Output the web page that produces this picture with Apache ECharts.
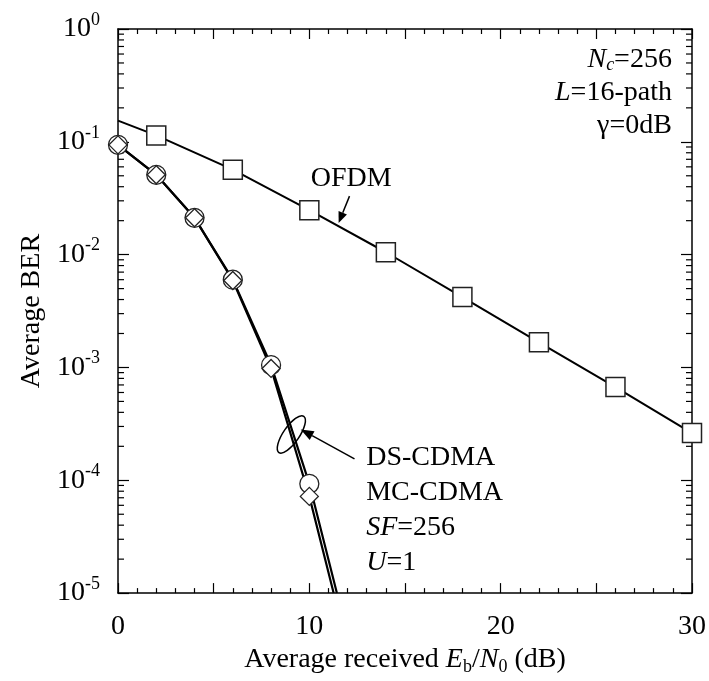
<!DOCTYPE html>
<html>
<head>
<meta charset="utf-8">
<script src="https://cdn.jsdelivr.net/npm/echarts@6/dist/echarts.min.js"></script>
<style>
  html, body { margin: 0; padding: 0; background: #fff; }
  #chart { width: 709px; height: 681px; }
</style>
</head>
<body>
<div id="chart"></div>
<script>
// Average received Eb/N0 (dB)
const ofdmLineX = [0, 2, 6, 10, 14, 18, 22, 26, 30];
const ofdmLineBer = [0.154, 0.114, 0.0566, 0.0248, 0.0105, 0.00421, 0.00167, 0.00067, 0.000262];
const ofdmMarkX = [2, 6, 10, 14, 18, 22, 26, 30];
const ofdmMarkBer = [0.114, 0.0566, 0.0248, 0.0105, 0.00421, 0.00167, 0.00067, 0.000262];

const dsX = [0, 2, 4, 6, 8, 10];
const dsBer = [0.094, 0.051, 0.0212, 0.0060, 0.00105, 9.3e-5];
const dsLineEnd = [11.44, 1e-5];

const mcX = [0, 2, 4, 6, 8, 10];
const mcBer = [0.094, 0.051, 0.0212, 0.0059, 0.00098, 7.2e-5];
const mcLineEnd = [11.27, 1e-5];

const xTickLabels = [0, 10, 20, 30];
const berDecades = [-5, -4, -3, -2, -1, 0];

const FONT = "'Liberation Serif', 'Times New Roman', serif";

// log-axis minor tick values (2..9 per decade)
const minorBer = [];
for (let e = -5; e < 0; e++) {
  for (let m = 2; m <= 9; m++) minorBer.push(m * Math.pow(10, e));
}

const pairs = (xs, ys) => xs.map((x, i) => [x, ys[i]]);

const chart = echarts.init(document.getElementById('chart'), null, { renderer: 'canvas' });

const xAxisBase = {
  type: 'value', min: 0, max: 30, interval: 5,
  axisLine: { show: true, onZero: false, lineStyle: { color: '#000', width: 1.5 } },
  axisTick: { show: true, inside: true, length: 10, lineStyle: { color: '#000', width: 1.2 } },
  minorTick: { show: true, splitNumber: 5, length: 5, lineStyle: { color: '#000', width: 1.2 } },
  splitLine: { show: false },
  minorSplitLine: { show: false }
};

const yAxisBase = {
  type: 'log', logBase: 10, min: 1e-5, max: 1, splitNumber: 5,
  axisLine: { show: true, onZero: false, lineStyle: { color: '#000', width: 1.5 } },
  axisTick: { show: true, inside: true, length: 11, lineStyle: { color: '#000', width: 1.2 } },
  splitLine: { show: false }
};

const option = {
  animation: false,
  backgroundColor: '#fff',
  grid: { left: 118, right: 16, top: 29, bottom: 76, containLabel: false },
  xAxis: [
    Object.assign({}, xAxisBase, {
      position: 'bottom',
      name: 'Average received {i|E}{sb|b}/{i|N}{sb|0} (dB)',
      nameLocation: 'middle',
      nameGap: 40,
      nameTextStyle: {
        color: '#000', fontFamily: FONT, fontSize: 28,
        rich: {
          i: { fontFamily: FONT, fontSize: 28, fontStyle: 'italic', color: '#000' },
          sb: { fontFamily: FONT, fontSize: 18, color: '#000', padding: [14, 0, 0, 0] }
        }
      },
      axisLabel: {
        show: true, margin: 20, color: '#000', fontFamily: FONT, fontSize: 28,
        formatter: v => (xTickLabels.indexOf(v) >= 0 ? String(v) : '')
      }
    }),
    Object.assign({}, xAxisBase, { position: 'top', axisLabel: { show: false } })
  ],
  yAxis: [
    Object.assign({}, yAxisBase, {
      position: 'left',
      name: 'Average BER',
      nameLocation: 'middle',
      nameGap: 70,
      nameRotate: 90,
      nameTextStyle: { color: '#000', fontFamily: FONT, fontSize: 28 },
      axisLabel: {
        show: true, margin: 18, color: '#000',
        formatter: v => {
          const e = Math.round(Math.log10(v));
          return berDecades.indexOf(e) >= 0 ? '{b|10}{s|' + e + '}' : '';
        },
        rich: {
          b: { fontFamily: FONT, fontSize: 28, color: '#000' },
          s: { fontFamily: FONT, fontSize: 18, color: '#000', padding: [0, 0, 18, 0] }
        }
      }
    }),
    Object.assign({}, yAxisBase, { position: 'right', axisLabel: { show: false } })
  ],
  series: [
    {
      type: 'custom', name: 'minorTicks', silent: true, z: 1,
      xAxisIndex: 0, yAxisIndex: 0,
      data: minorBer.map(v => [0, v]),
      renderItem: (params, api) => {
        const p = api.coord([0, api.value(1)]);
        const cs = params.coordSys;
        const st = { stroke: '#000', lineWidth: 1.2 };
        return {
          type: 'group',
          children: [
            { type: 'line', shape: { x1: cs.x, y1: p[1], x2: cs.x + 6, y2: p[1] }, style: st },
            { type: 'line', shape: { x1: cs.x + cs.width - 6, y1: p[1], x2: cs.x + cs.width, y2: p[1] }, style: st }
          ]
        };
      }
    },
    {
      type: 'line', name: 'OFDM curve', data: pairs(ofdmLineX, ofdmLineBer),
      showSymbol: false, symbol: 'none', smooth: false,
      lineStyle: { color: '#000', width: 2 }, z: 2, silent: true
    },
    {
      type: 'line', name: 'DS-CDMA curve', data: pairs(dsX, dsBer).concat([dsLineEnd]),
      showSymbol: false, symbol: 'none', smooth: false,
      lineStyle: { color: '#000', width: 2.2 }, z: 2, silent: true
    },
    {
      type: 'line', name: 'MC-CDMA curve', data: pairs(mcX, mcBer).concat([mcLineEnd]),
      showSymbol: false, symbol: 'none', smooth: false,
      lineStyle: { color: '#000', width: 2.2 }, z: 2, silent: true
    },
    {
      type: 'scatter', name: 'OFDM', data: pairs(ofdmMarkX, ofdmMarkBer),
      symbol: 'rect', symbolSize: 19,
      itemStyle: { color: '#fff', borderColor: '#222', borderWidth: 1.5, opacity: 1 }, z: 3
    },
    {
      type: 'scatter', name: 'DS-CDMA', data: pairs(dsX, dsBer),
      symbol: 'circle', symbolSize: 19,
      itemStyle: { color: '#fff', borderColor: '#222', borderWidth: 1.3, opacity: 1 }, z: 4
    },
    {
      type: 'scatter', name: 'MC-CDMA', data: pairs(mcX, mcBer),
      symbol: 'diamond', symbolSize: 18,
      itemStyle: { color: '#fff', borderColor: '#222', borderWidth: 1.3, opacity: 1 }, z: 5
    }
  ]
};

chart.setOption(option);

// annotation anchors, in data units [Eb/N0, BER]
const ofdmLabelAt = [12.19, 0.0472];
const ofdmArrow = [[12.1, 0.0330], [11.53, 0.0191]];
const cdmaEllipseAt = [9.06, 2.55e-4];
const cdmaArrow = [[12.36, 1.55e-4], [9.55, 2.82e-4]];
const cdmaLabelAt = [12.97, 2.25e-4];
const paramLabelAt = [28.95, 0.75];

const px = d => chart.convertToPixel({ gridIndex: 0 }, d);

function arrow(a, b, headLen, headHalf) {
  const p0 = px(a), p1 = px(b);
  const dx = p1[0] - p0[0], dy = p1[1] - p0[1];
  const len = Math.hypot(dx, dy);
  const ux = dx / len, uy = dy / len;
  const bx = p1[0] - ux * headLen, by = p1[1] - uy * headLen;
  return [
    { type: 'line', shape: { x1: p0[0], y1: p0[1], x2: bx, y2: by }, style: { stroke: '#000', lineWidth: 1.5 }, z: 10 },
    {
      type: 'polygon', z: 10,
      shape: { points: [[p1[0], p1[1]], [bx - uy * headHalf, by + ux * headHalf], [bx + uy * headHalf, by - ux * headHalf]] },
      style: { fill: '#000' }
    }
  ];
}

const textRich = {
  i: { fontFamily: FONT, fontSize: 28, fontStyle: 'italic', fill: '#000' },
  n: { fontFamily: FONT, fontSize: 28, fill: '#000' },
  si: { fontFamily: FONT, fontSize: 18, fontStyle: 'italic', fill: '#000', padding: [12, 0, 0, 0] }
};

const pOfdm = px(ofdmLabelAt);
const pEll = px(cdmaEllipseAt);
const pCdma = px(cdmaLabelAt);
const pParam = px(paramLabelAt);

chart.setOption({
  graphic: [
    {
      type: 'text', x: pOfdm[0], y: pOfdm[1], z: 10,
      style: { text: 'OFDM', font: '28px ' + FONT, fill: '#000', align: 'center', verticalAlign: 'middle' }
    },
    ...arrow(ofdmArrow[0], ofdmArrow[1], 11, 4.5),
    {
      type: 'ellipse', x: pEll[0], y: pEll[1], rotation: -0.6, z: 10,
      shape: { cx: 0, cy: 0, rx: 8, ry: 22 },
      style: { fill: 'none', stroke: '#000', lineWidth: 1.5 }
    },
    ...arrow(cdmaArrow[0], cdmaArrow[1], 13, 5),
    {
      type: 'text', x: pCdma[0], y: pCdma[1], z: 10,
      style: {
        text: '{n|DS-CDMA}\n{n|MC-CDMA}\n{i|SF}{n|=256}\n{i|U}{n|=1}',
        font: '28px ' + FONT, fill: '#000', align: 'left', verticalAlign: 'top',
        lineHeight: 35, rich: textRich
      }
    },
    {
      type: 'text', x: pParam[0], y: pParam[1], z: 10,
      style: {
        text: '{i|N}{si|c}{n|=256}\n{i|L}{n|=16-path}\n{n|\u03b3=0dB}',
        font: '28px ' + FONT, fill: '#000', align: 'right', verticalAlign: 'top',
        lineHeight: 33, rich: textRich
      }
    }
  ]
});
</script>
</body>
</html>
